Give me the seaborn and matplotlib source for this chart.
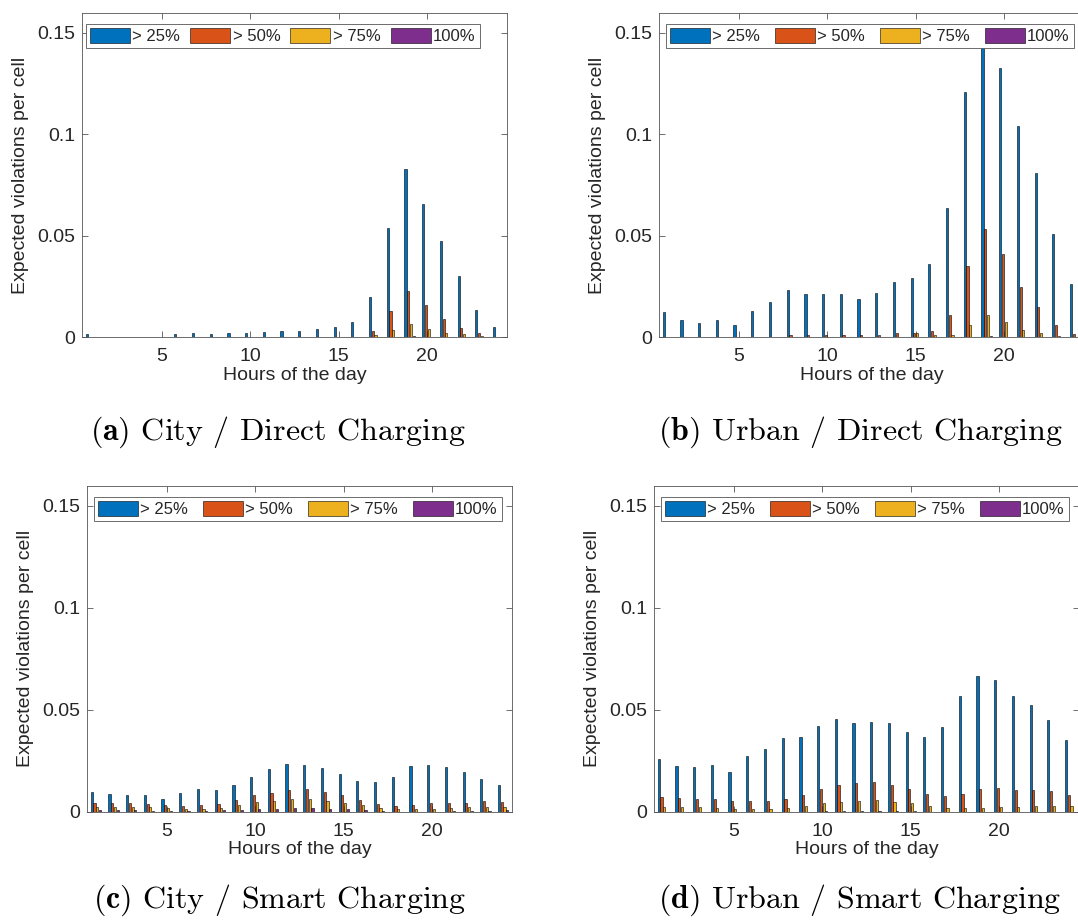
import numpy as np
import pandas as pd
import matplotlib
matplotlib.use("Agg")
import matplotlib.pyplot as plt
import seaborn as sns

hours = list(range(1, 25))
levels = ["> 25%", "> 50%", "> 75%", "100%"]
colors = ["#0072BD", "#D95319", "#EDB120", "#7E2F8E"]

# (a) City / Direct Charging
a_25 = [0.0015, 0.0003, 0.0003, 0.0003, 0.0002, 0.0015, 0.0023, 0.0016, 0.0021, 0.0021, 0.0026, 0.0031,
        0.0031, 0.0043, 0.0049, 0.0076, 0.0197, 0.0541, 0.0832, 0.0656, 0.0475, 0.0303, 0.0135, 0.0051]
a_50 = [0.0, 0.0, 0.0, 0.0, 0.0, 0.0, 0.0, 0.0, 0.0, 0.0, 0.0, 0.0,
        0.0, 0.0001, 0.0002, 0.0003, 0.0033, 0.0132, 0.0229, 0.0160, 0.0090, 0.0046, 0.0021, 0.0002]
a_75 = [0.0, 0.0, 0.0, 0.0, 0.0, 0.0, 0.0, 0.0, 0.0, 0.0, 0.0, 0.0,
        0.0, 0.0, 0.0003, 0.0001, 0.0012, 0.0036, 0.0066, 0.0043, 0.0023, 0.0015, 0.0005, 0.0]
a_100 = [0.0, 0.0, 0.0, 0.0, 0.0, 0.0, 0.0, 0.0, 0.0, 0.0, 0.0, 0.0,
         0.0, 0.0, 0.0, 0.0, 0.0, 0.0003, 0.0007, 0.0003, 0.0, 0.0, 0.0, 0.0]

# (b) Urban / Direct Charging
b_25 = [0.0123, 0.0084, 0.0069, 0.0084, 0.0059, 0.0131, 0.0175, 0.0231, 0.0212, 0.0212, 0.0215, 0.0189,
        0.0218, 0.0271, 0.0290, 0.0359, 0.0635, 0.1207, 0.1460, 0.1328, 0.1040, 0.0810, 0.0507, 0.0262]
b_50 = [0.0003, 0.0001, 0.0001, 0.0001, 0.0001, 0.0002, 0.0003, 0.0010, 0.0010, 0.0010, 0.0010, 0.0010,
        0.0013, 0.0021, 0.0023, 0.0033, 0.0112, 0.0353, 0.0536, 0.0413, 0.0248, 0.0149, 0.0062, 0.0016]
b_75 = [0.0, 0.0, 0.0, 0.0, 0.0, 0.0, 0.0, 0.0, 0.0, 0.0, 0.0, 0.0,
        0.0, 0.0003, 0.0020, 0.0011, 0.0013, 0.0062, 0.0112, 0.0075, 0.0034, 0.0021, 0.0007, 0.0003]
b_100 = [0.0, 0.0, 0.0, 0.0, 0.0, 0.0, 0.0, 0.0, 0.0, 0.0, 0.0, 0.0,
         0.0, 0.0, 0.0, 0.0, 0.0, 0.0002, 0.0005, 0.0003, 0.0, 0.0, 0.0, 0.0]

# (c) City / Smart Charging
c_25 = [0.0095, 0.0085, 0.0082, 0.0080, 0.0061, 0.0093, 0.0110, 0.0105, 0.0131, 0.0172, 0.0210, 0.0233,
        0.0230, 0.0215, 0.0187, 0.0151, 0.0144, 0.0171, 0.0223, 0.0230, 0.0220, 0.0194, 0.0159, 0.0130]
c_50 = [0.0043, 0.0043, 0.0043, 0.0036, 0.0031, 0.0028, 0.0031, 0.0036, 0.0056, 0.0080, 0.0092, 0.0105,
        0.0110, 0.0095, 0.0080, 0.0056, 0.0036, 0.0026, 0.0034, 0.0041, 0.0041, 0.0043, 0.0051, 0.0046]
c_75 = [0.0025, 0.0025, 0.0025, 0.0021, 0.0016, 0.0013, 0.0013, 0.0020, 0.0031, 0.0046, 0.0054, 0.0061,
        0.0064, 0.0054, 0.0044, 0.0031, 0.0016, 0.0011, 0.0011, 0.0013, 0.0016, 0.0021, 0.0025, 0.0025]
c_100 = [0.0007, 0.0007, 0.0007, 0.0003, 0.0003, 0.0003, 0.0002, 0.0007, 0.0008, 0.0013, 0.0015, 0.0018,
         0.0018, 0.0015, 0.0011, 0.0007, 0.0002, 0.0, 0.0, 0.0, 0.0002, 0.0003, 0.0005, 0.0007]

# (d) Urban / Smart Charging
d_25 = [0.0257, 0.0224, 0.0219, 0.0229, 0.0197, 0.0275, 0.0306, 0.0360, 0.0367, 0.0421, 0.0456, 0.0436,
        0.0439, 0.0436, 0.0392, 0.0367, 0.0416, 0.0568, 0.0666, 0.0646, 0.0568, 0.0521, 0.0451, 0.0352]
d_50 = [0.0071, 0.0066, 0.0063, 0.0061, 0.0051, 0.0051, 0.0051, 0.0063, 0.0082, 0.0110, 0.0130, 0.0140,
        0.0146, 0.0130, 0.0112, 0.0086, 0.0076, 0.0089, 0.0110, 0.0115, 0.0105, 0.0105, 0.0100, 0.0084]
d_75 = [0.0023, 0.0023, 0.0023, 0.0016, 0.0013, 0.0012, 0.0013, 0.0016, 0.0026, 0.0041, 0.0046, 0.0053,
        0.0056, 0.0046, 0.0041, 0.0026, 0.0016, 0.0016, 0.0016, 0.0025, 0.0023, 0.0026, 0.0026, 0.0026]
d_100 = [0.0, 0.0, 0.0, 0.0, 0.0, 0.0, 0.0, 0.0, 0.0, 0.0001, 0.0003, 0.0003,
         0.0003, 0.0003, 0.0001, 0.0, 0.0, 0.0, 0.0, 0.0, 0.0, 0.0, 0.0, 0.0]

captions = [r"$\mathbf{(a)}$ City / Direct Charging",
            r"$\mathbf{(b)}$ Urban / Direct Charging",
            r"$\mathbf{(c)}$ City / Smart Charging",
            r"$\mathbf{(d)}$ Urban / Smart Charging"]
panels = [(a_25, a_50, a_75, a_100), (b_25, b_50, b_75, b_100),
          (c_25, c_50, c_75, c_100), (d_25, d_50, d_75, d_100)]
yticks = [0, 0.05, 0.1, 0.15]
ytick_labels = ["0", "0.05", "0.1", "0.15"]
xticks = [5, 10, 15, 20]

sns.set_style("ticks")
plt.rcParams["font.family"] = ["Liberation Sans", "DejaVu Sans"]
plt.rcParams["mathtext.fontset"] = "cm"

TXT = "#262626"
W, H = 1078, 921
fig = plt.figure(figsize=(W / 100, H / 100), dpi=100)

# pixel boxes: left, top, width, height
boxes = [(82, 12.7, 425, 324.6), (659, 12.7, 425, 324.6),
         (87, 485.5, 425, 326.2), (654, 485.5, 425, 326.2)]
leg_boxes = [(0.009, 0.890, 0.927, 0.077), (0.016, 0.890, 0.960, 0.077),
             (0.016, 0.890, 0.960, 0.077), (0.016, 0.890, 0.960, 0.077)]
cap_pos = [(278, 432), (860, 432), (280, 900), (860, 900)]

for i, (vals, box) in enumerate(zip(panels, boxes)):
    l, t, w, h = box
    ax = fig.add_axes([l / W, 1 - (t + h) / H, w / W, h / H])
    df = pd.DataFrame({
        "hour": np.tile(hours, 4),
        "level": np.repeat(levels, 24),
        "value": np.concatenate([np.asarray(v) for v in vals]),
    })
    sns.barplot(data=df, x="hour", y="value", hue="level", hue_order=levels,
                palette=colors, native_scale=True, width=0.62, gap=0.2,
                edgecolor="black", linewidth=0.4, errorbar=None, ax=ax,
                saturation=1)
    ax.set_xlim(0.5, 24.5)
    ax.set_ylim(0, 0.16)
    ax.set_xticks(xticks)
    ax.set_xticklabels([str(x) for x in xticks])
    ax.set_yticks(yticks)
    ax.set_yticklabels(ytick_labels)
    ax.tick_params(direction="in", length=4, width=0.6, top=True, right=True,
                   labelsize=14, colors="#555555", labelcolor=TXT, pad=5)
    ax.tick_params(axis="x", pad=8)
    for s in ax.spines.values():
        s.set_color("#555555")
        s.set_linewidth(0.6)
        s.set_visible(True)
    ax.set_xlabel("Hours of the day", fontsize=14, color=TXT, labelpad=1)
    ax.set_ylabel("Expected violations per cell", fontsize=14, color=TXT, labelpad=6)
    handles, labels = ax.get_legend_handles_labels()
    old = ax.get_legend()
    if old is not None:
        old.remove()
    leg = ax.legend(handles, labels, ncol=4, mode="expand",
                    bbox_to_anchor=leg_boxes[i], loc="lower left",
                    fontsize=12, handlelength=2.4, handleheight=1.0,
                    handletextpad=0.15, columnspacing=0.6, borderpad=0.25,
                    borderaxespad=0, fancybox=False, framealpha=1,
                    edgecolor="#555555", labelcolor=TXT)
    leg.get_frame().set_linewidth(0.6)
    cx, cy = cap_pos[i]
    fig.text(cx / W, 1 - cy / H, captions[i], ha="center", va="center",
             fontsize=23, family="cmr10", color="black")

fig.savefig("out.png", dpi=100)
